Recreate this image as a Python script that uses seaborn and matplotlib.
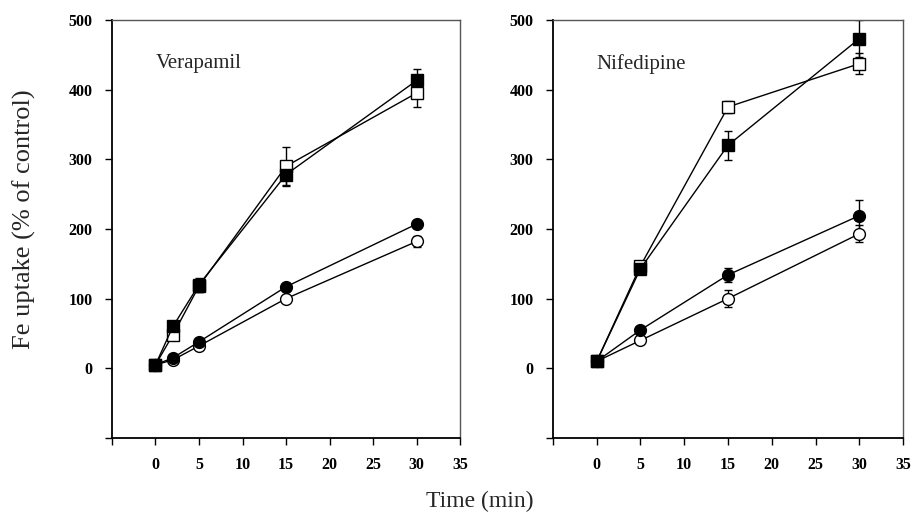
import matplotlib
matplotlib.use("Agg")
import matplotlib.pyplot as plt
import seaborn as sns
import pandas as pd
import numpy as np

# Verapamil panel
t_ver = [0, 2, 5, 15, 30]
ver_sq_filled = [5, 60, 120, 278, 413]
ver_sq_filled_err = [0, 6, 10, 15, 16]
ver_sq_open = [5, 48, 118, 290, 395]
ver_sq_open_err = [0, 5, 8, 28, 20]
ver_ci_filled = [5, 15, 38, 117, 207]
ver_ci_filled_err = [0, 2, 3, 4, 5]
ver_ci_open = [5, 12, 32, 100, 182]
ver_ci_open_err = [0, 2, 3, 4, 8]

# Nifedipine panel
t_nif = [0, 5, 15, 30]
nif_sq_filled = [10, 143, 320, 473]
nif_sq_filled_err = [0, 5, 21, 27]
nif_sq_open = [10, 147, 375, 437]
nif_sq_open_err = [0, 5, 8, 15]
nif_ci_filled = [10, 55, 134, 219]
nif_ci_filled_err = [0, 3, 10, 22]
nif_ci_open = [10, 40, 100, 193]
nif_ci_open_err = [0, 3, 12, 12]

xticks = [0, 5, 10, 15, 20, 25, 30, 35]
yticks = [0, 100, 200, 300, 400, 500]

sns.set_theme(style="ticks")
plt.rcParams['font.family'] = ['Liberation Serif', 'DejaVu Serif']

fig = plt.figure(figsize=(9.14, 5.22), dpi=100)
ax1 = fig.add_axes([0.1225, 0.161, 0.381, 0.801])
ax2 = fig.add_axes([0.605, 0.161, 0.383, 0.801])


def panel(ax, t, series, title):
    for vals, errs, marker, face, ms in series:
        df = pd.DataFrame({"t": t, "v": vals})
        ax.errorbar(t, vals, yerr=errs, fmt="none", ecolor="black",
                    elinewidth=1, capsize=3, capthick=1, zorder=2)
        sns.lineplot(data=df, x="t", y="v", ax=ax, color="black", lw=1,
                     marker=marker, markersize=ms, markerfacecolor=face,
                     markeredgecolor="black", markeredgewidth=1, zorder=3)
    ax.set_xlim(-5, 35)
    ax.set_ylim(-100, 500)
    ax.set_xticks([-5] + xticks)
    ax.set_xticklabels([""] + [str(x) for x in xticks])
    ax.set_yticks([-100] + yticks)
    ax.set_yticklabels([""] + [str(y) for y in yticks])
    ax.tick_params(direction="out", length=5, width=1, colors="black",
                   labelsize=11.5, pad=9)
    for lab in ax.get_xticklabels() + ax.get_yticklabels():
        lab.set_fontweight("bold")
    for side in ["left", "bottom"]:
        ax.spines[side].set_linewidth(1.3)
        ax.spines[side].set_color("black")
    for side in ["top", "right"]:
        ax.spines[side].set_visible(True)
        ax.spines[side].set_linewidth(1)
        ax.spines[side].set_color("#555555")
    ax.set_xlabel("")
    ax.set_ylabel("")
    ax.text(0, 437, title, fontsize=15, ha="left", va="center")


panel(ax1, t_ver, [
    (ver_ci_open, ver_ci_open_err, "o", "white", 8.5),
    (ver_ci_filled, ver_ci_filled_err, "o", "black", 8.5),
    (ver_sq_open, ver_sq_open_err, "s", "white", 9),
    (ver_sq_filled, ver_sq_filled_err, "s", "black", 9),
], "Verapamil")

panel(ax2, t_nif, [
    (nif_ci_open, nif_ci_open_err, "o", "white", 8.5),
    (nif_ci_filled, nif_ci_filled_err, "o", "black", 8.5),
    (nif_sq_open, nif_sq_open_err, "s", "white", 9),
    (nif_sq_filled, nif_sq_filled_err, "s", "black", 9),
], "Nifedipine")

fig.text(0.027, 0.58, "Fe uptake (% of control)", rotation=90, fontsize=19,
         ha="center", va="center")
fig.text(0.525, 0.04, "Time (min)", fontsize=17, ha="center", va="center")

fig.savefig("out.png", dpi=100)
